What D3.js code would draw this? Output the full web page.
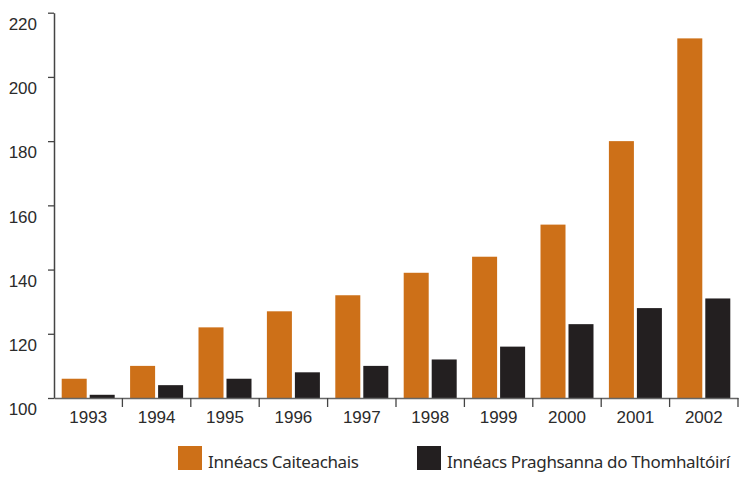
<!DOCTYPE html>
<html>
<head>
<meta charset="utf-8">
<script src="https://cdn.jsdelivr.net/npm/d3@7"></script>
<style>
  body { margin: 0; background: #fff; }
  svg { display: block; font-family: "Noto Sans", "Open Sans", sans-serif; }
</style>
</head>
<body>
<svg id="chart" width="739" height="477"></svg>
<script>
// data
var years = ["1993", "1994", "1995", "1996", "1997", "1998", "1999", "2000", "2001", "2002"];
var spendIndex = [106, 110, 122, 127, 132, 139, 144, 154, 180, 212];
var cpiIndex = [101, 104, 106, 108, 110, 112, 116, 123, 128, 131];
var seriesNames = ["Innéacs Caiteachais", "Innéacs Praghsanna do Thomhaltóirí"];
var yTicks = [100, 120, 140, 160, 180, 200, 220];

var colors = ["#CD7018", "#231F20"];
var textColor = "#2b2b2b";

var rows = years.map(function(y, i) { return { year: y, values: [spendIndex[i], cpiIndex[i]] }; });

const plotLeft = 54, plotRight = 738, plotTop = 12.7, plotBottom = 398;
const svg = d3.select("#chart");

const x = d3.scaleBand().domain(years).range([plotLeft, plotRight]).padding(0);
const x1 = d3.scaleBand().domain([0, 1]).range([0, x.bandwidth()])
  .paddingInner(0.107).paddingOuter(0.275);
const y = d3.scaleLinear().domain([100, 220]).range([plotBottom, plotTop]);

/** bars */
const groups = svg.selectAll(".grp").data(rows).join("g")
  .attr("class", "grp")
  .attr("transform", function(d) { return "translate(" + x(d.year) + ",0)"; });
groups.selectAll("rect").data(function(d) { return d.values; }).join("rect")
  .attr("x", function(d, i) { return x1(i); })
  .attr("y", function(d) { return y(d); })
  .attr("width", x1.bandwidth())
  .attr("height", function(d) { return plotBottom - y(d); })
  .attr("fill", function(d, i) { return colors[i]; });

/** x axis: labels centred, ticks between bands */
const gX = svg.append("g")
  .attr("transform", "translate(0," + plotBottom + ")")
  .call(d3.axisBottom(x).tickSize(0).tickPadding(13));
gX.select(".domain").attr("stroke", "#666").attr("stroke-width", 1.5);
gX.selectAll(".tick text")
  .attr("fill", textColor)
  .attr("font-size", "17px")
  .attr("dy", "0.71em");
gX.selectAll(".sep").data(years.slice(1).concat(["end"])).join("line")
  .attr("class", "sep")
  .attr("x1", function(d) { return d === "end" ? plotRight : x(d); })
  .attr("x2", function(d) { return d === "end" ? plotRight : x(d); })
  .attr("y1", 0).attr("y2", 9)
  .attr("stroke", "#444").attr("stroke-width", 1.3);

/** y axis */
const gY = svg.append("g")
  .attr("transform", "translate(" + plotLeft + ",0)")
  .call(d3.axisLeft(y).tickValues(yTicks).tickSize(6).tickSizeOuter(0).tickPadding(11));
gY.select(".domain").attr("stroke", "#444").attr("stroke-width", 1.5);
gY.selectAll(".tick line").attr("stroke", "#444").attr("stroke-width", 1.3);
gY.selectAll(".tick text")
  .attr("fill", textColor)
  .attr("font-size", "17px")
  .attr("dy", "0.98em");

/** legend */
const legendX = [178, 417];
const leg = svg.selectAll(".leg").data(seriesNames).join("g")
  .attr("class", "leg")
  .attr("transform", function(d, i) { return "translate(" + legendX[i] + ",446)"; });
leg.append("rect")
  .attr("width", 24).attr("height", 24)
  .attr("fill", function(d, i) { return colors[i]; });
leg.append("text")
  .attr("x", 30).attr("y", 22)
  .attr("fill", textColor)
  .attr("font-size", "17px")
  .attr("letter-spacing", "-0.35px")
  .text(function(d) { return d; });
</script>
</body>
</html>
